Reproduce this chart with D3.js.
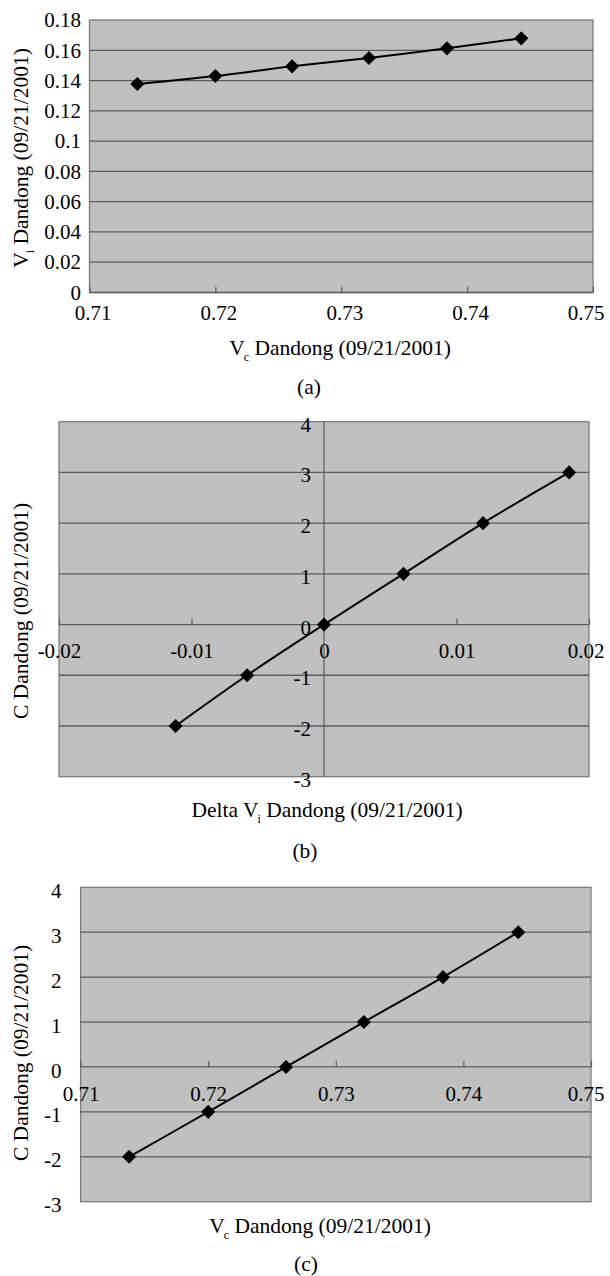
<!DOCTYPE html>
<html>
<head>
<meta charset="utf-8">
<script src="https://cdn.jsdelivr.net/npm/d3@7"></script>
<style>
  html, body { margin: 0; padding: 0; background: #ffffff; }
  svg { display: block; }
  text { font-family: "Liberation Serif", "Times New Roman", serif; fill: #000; }
</style>
</head>
<body>
<div id="chart"></div>
<script>
// Calibration series, Dandong 09/21/2001
const C_VALUES = [-2, -1, 0, 1, 2, 3];
const VC_VALUES = [0.7138, 0.7200, 0.7261, 0.7322, 0.7384, 0.7443];
const VI_VALUES = [0.1377, 0.1430, 0.1494, 0.1549, 0.1613, 0.1679];
const DELTA_VI_VALUES = [-0.0112, -0.0058, 0, 0.0060, 0.0120, 0.0185];

// Axis ticks
const VC_TICKS = [0.71, 0.72, 0.73, 0.74, 0.75];
const VI_TICKS = [0, 0.02, 0.04, 0.06, 0.08, 0.1, 0.12, 0.14, 0.16, 0.18];
const DELTA_TICKS = [-0.02, -0.01, 0, 0.01, 0.02];
const C_TICKS = [-3, -2, -1, 0, 1, 2, 3, 4];

const W = 610, H = 1276;
const PLOT_FILL = "#c0c0c0";
const BORDER = "#7c7c7c";
const GRID = "#5c5c5c";
const TICK_FONT = 21;
const TITLE_FONT = 21.5;
const RIGHT_TEXT_LIMIT = 604;
const fmt = v => String(v);

const svg = d3.select("#chart").append("svg")
  .attr("width", W).attr("height", H)
  .attr("viewBox", `0 0 ${W} ${H}`);
svg.append("rect").attr("width", W).attr("height", H).attr("fill", "#fff");

function plotFrame(g, x, y) {
  const [x0, x1] = x.range();
  const [y1, y0] = y.range();
  g.append("rect")
    .attr("x", x0).attr("y", y0)
    .attr("width", x1 - x0).attr("height", y1 - y0)
    .attr("fill", PLOT_FILL)
    .attr("stroke", BORDER).attr("stroke-width", 1.3);
}

function hGrid(g, x, y, values) {
  const [x0, x1] = x.range();
  g.append("g").selectAll("line").data(values).join("line")
    .attr("x1", x0).attr("x2", x1)
    .attr("y1", d => y(d)).attr("y2", d => y(d))
    .attr("stroke", GRID).attr("stroke-width", 1.3);
}

function styleAxis(ax) {
  ax.select(".domain").remove();
  ax.selectAll(".tick line").attr("stroke", GRID).attr("stroke-width", 1.2);
  ax.selectAll(".tick text")
    .attr("font-family", '"Liberation Serif", "Times New Roman", serif')
    .attr("font-size", TICK_FONT).attr("fill", "#000");
}

// keep the rightmost x label inside the page
function clampLastLabel(ax, x) {
  const last = x.domain()[1];
  ax.selectAll(".tick").filter(d => d === last).select("text")
    .attr("text-anchor", "end")
    .attr("dx", null)
    .attr("x", RIGHT_TEXT_LIMIT - x(last));
}

function series(g, x, y, xs, ys) {
  const pts = xs.map((v, i) => [x(v), y(ys[i])]);
  g.append("path")
    .attr("d", d3.line().curve(d3.curveCatmullRom.alpha(0.5))(pts))
    .attr("fill", "none").attr("stroke", "#000").attr("stroke-width", 2);
  g.append("g").selectAll("path").data(pts).join("path")
    .attr("transform", d => `translate(${d[0]},${d[1]}) rotate(45)`)
    .attr("d", d3.symbol().type(d3.symbolSquare).size(100))
    .attr("fill", "#000");
}

function titleWithSub(g, x, y, before, sub, after, rotate) {
  const t = g.append("text")
    .attr("font-size", TITLE_FONT)
    .attr("text-anchor", "middle")
    .attr("transform", `translate(${x},${y})` + (rotate ? " rotate(-90)" : ""))
    .attr("dy", rotate ? "0.35em" : 0);
  t.append("tspan").text(before);
  if (sub) {
    t.append("tspan").attr("font-size", 12).attr("dy", 6).attr("dx", -1).text(sub);
    t.append("tspan").attr("dy", -6).text(after);
  }
  return t;
}

function caption(label, x, y) {
  svg.append("text").attr("x", x).attr("y", y)
    .attr("text-anchor", "middle").attr("font-size", TITLE_FONT).text(label);
}

// ---------- (a) Vi against Vc ----------
{
  const g = svg.append("g");
  const x = d3.scaleLinear().domain([0.71, 0.75]).range([89.5, 593]);
  const y = d3.scaleLinear().domain([0, 0.18]).range([292.5, 20]);
  plotFrame(g, x, y);
  hGrid(g, x, y, VI_TICKS.slice(1, -1));
  g.append("line").attr("x1", x.range()[0]).attr("x2", x.range()[1])
    .attr("y1", y(0)).attr("y2", y(0)).attr("stroke", GRID).attr("stroke-width", 1.3);
  const ax = g.append("g").attr("transform", `translate(0,${y(0)})`)
    .call(d3.axisBottom(x).tickValues(VC_TICKS).tickFormat(fmt).tickSize(-6).tickPadding(13));
  styleAxis(ax);
  ax.selectAll(".tick text").attr("dx", 3);
  clampLastLabel(ax, x);
  const ay = g.append("g").attr("transform", `translate(${x.range()[0]},0)`)
    .call(d3.axisLeft(y).tickValues(VI_TICKS).tickFormat(fmt).tickSize(0).tickPadding(8.5));
  styleAxis(ay);
  series(g, x, y, VC_VALUES, VI_VALUES);
  titleWithSub(g, 340, 355, "V", "c", " Dandong (09/21/2001)", false);
  titleWithSub(g, 20, 158, "V", "i", " Dandong (09/21/2001)", true);
  caption("(a)", 309, 394);
}

// ---------- (b) C against Delta Vi ----------
{
  const g = svg.append("g");
  const x = d3.scaleLinear().domain([-0.02, 0.02]).range([59, 589]);
  const y = d3.scaleLinear().domain([-3, 4]).range([776.7, 421.7]);
  plotFrame(g, x, y);
  hGrid(g, x, y, C_TICKS.slice(1, -1));
  g.append("line").attr("x1", x(0)).attr("x2", x(0))
    .attr("y1", y.range()[1]).attr("y2", y.range()[0])
    .attr("stroke", GRID).attr("stroke-width", 1.2);
  const ax = g.append("g").attr("transform", `translate(0,${y(0)})`)
    .call(d3.axisBottom(x).tickValues(DELTA_TICKS).tickFormat(fmt).tickSize(-6).tickPadding(19));
  styleAxis(ax);
  clampLastLabel(ax, x);
  const ay = g.append("g").attr("transform", `translate(${x(0)},0)`)
    .call(d3.axisLeft(y).tickValues(C_TICKS).tickFormat(fmt).tickSize(0).tickPadding(13));
  styleAxis(ay);
  ay.selectAll(".tick text").attr("dy", "0.45em");
  series(g, x, y, DELTA_VI_VALUES, C_VALUES);
  titleWithSub(g, 327, 817, "Delta V", "i", " Dandong (09/21/2001)", false);
  titleWithSub(g, 20, 611, "C Dandong (09/21/2001)", null, null, true);
  caption("(b)", 305, 858);
}

// ---------- (c) C against Vc ----------
{
  const g = svg.append("g");
  const x = d3.scaleLinear().domain([0.71, 0.75]).range([80.6, 591]);
  const y = d3.scaleLinear().domain([-3, 4]).range([1201.7, 887.3]);
  plotFrame(g, x, y);
  hGrid(g, x, y, C_TICKS.slice(1, -1));
  const ax = g.append("g").attr("transform", `translate(0,${y(0)})`)
    .call(d3.axisBottom(x).tickValues(VC_TICKS).tickFormat(fmt).tickSize(-6).tickPadding(19));
  styleAxis(ax);
  clampLastLabel(ax, x);
  const ay = g.append("g").attr("transform", `translate(${x.range()[0]},0)`)
    .call(d3.axisLeft(y).tickValues(C_TICKS).tickFormat(fmt).tickSize(0).tickPadding(19));
  styleAxis(ay);
  ay.selectAll(".tick text").attr("dy", "0.48em");
  series(g, x, y, VC_VALUES, C_VALUES);
  titleWithSub(g, 320, 1233, "V", "c", " Dandong (09/21/2001)", false);
  titleWithSub(g, 20, 1053, "C Dandong (09/21/2001)", null, null, true);
  caption("(c)", 306, 1271);
}
</script>
</body>
</html>
